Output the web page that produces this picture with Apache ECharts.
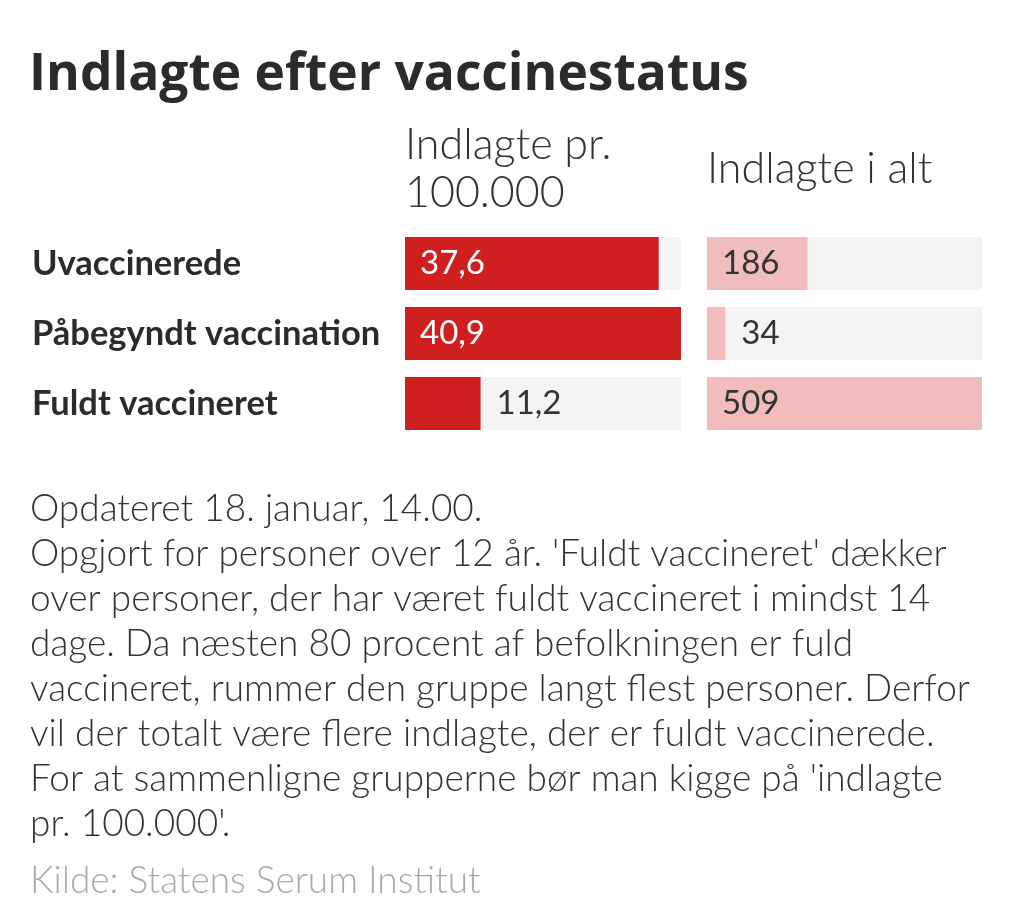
<!DOCTYPE html>
<html>
<head>
<meta charset="utf-8">
<script src="https://cdn.jsdelivr.net/npm/echarts@6/dist/echarts.min.js"></script>
<style>
  html, body { margin: 0; padding: 0; background: #fff; }
  #chart { width: 1024px; height: 910px; }
</style>
</head>
<body>
<div id="chart"></div>
<script>
// data
const groups = ['Uvaccinerede', 'Påbegyndt vaccination', 'Fuldt vaccineret'];
const perHundredK = [37.6, 40.9, 11.2];
const total = [186, 34, 509];
const notes = [
  'Opdateret 18. januar, 14.00.',
  "Opgjort for personer over 12 år. 'Fuldt vaccineret' dækker",
  'over personer, der har været fuldt vaccineret i mindst 14',
  'dage. Da næsten 80 procent af befolkningen er fuld',
  'vaccineret, rummer den gruppe langt flest personer. Derfor',
  'vil der totalt være flere indlagte, der er fuldt vaccinerede.',
  "For at sammenligne grupperne bør man kigge på 'indlagte",
  "pr. 100.000'."
];
const source = 'Kilde: Statens Serum Institut';

const font = 'Lato, "Noto Sans", sans-serif';
const ink = '#333';

const chart = echarts.init(document.getElementById('chart'));

// label inside the bar when there is room, otherwise just to the right of it
function withLabels(values, insideColor) {
  const max = Math.max(...values);
  return values.map(v => {
    const fits = v / max > 0.3;
    return {
      value: v,
      label: {
        position: fits ? 'insideLeft' : 'right',
        distance: fits ? 15 : 16,
        color: fits ? insideColor : ink
      }
    };
  });
}

const fmt = p => String(p.value).replace('.', ',');

const noteText = notes.map((line, i) => ({
  type: 'text',
  left: 30,
  top: 491 + i * 45,
  style: { text: line, font: '300 37px ' + font, fill: ink }
}));

chart.setOption({
  animation: false,
  title: {
    text: 'Indlagte efter vaccinestatus',
    left: 24,
    top: 44,
    textStyle: { fontFamily: '"Open Sans", sans-serif', fontSize: 51.5, fontWeight: 'bold', color: '#2b2b2b' }
  },
  graphic: [
    {
      type: 'text', left: 405, top: 121,
      style: { text: 'Indlagte pr.\n100.000', font: '300 43px ' + font, lineHeight: 48, fill: ink }
    },
    {
      type: 'text', left: 707, top: 148,
      style: { text: 'Indlagte i alt', font: '300 43px ' + font, fill: ink }
    },
    ...noteText,
    {
      type: 'text', left: 30, top: 863,
      style: { text: source, font: '300 37px ' + font, fill: '#aaa' }
    }
  ],
  grid: [
    { left: 405, right: 343, top: 228.5, height: 210 },
    { left: 707, right: 42, top: 228.5, height: 210 }
  ],
  xAxis: [
    { gridIndex: 0, type: 'value', min: 0, max: Math.max(...perHundredK), show: false },
    { gridIndex: 1, type: 'value', min: 0, max: Math.max(...total), show: false }
  ],
  yAxis: [
    {
      gridIndex: 0, type: 'category', data: groups, inverse: true,
      axisLine: { show: false }, axisTick: { show: false },
      axisLabel: {
        align: 'left', margin: 373,
        fontFamily: font, fontSize: 34.5, fontWeight: 'bold', color: '#2b2b2b'
      }
    },
    {
      gridIndex: 1, type: 'category', data: groups, inverse: true, show: false
    }
  ],
  series: [
    {
      type: 'bar', xAxisIndex: 0, yAxisIndex: 0, barWidth: 53,
      data: withLabels(perHundredK, '#fff'),
      itemStyle: { color: '#cf1f1f' },
      showBackground: true,
      backgroundStyle: { color: '#f4f4f4' },
      label: { show: true, formatter: fmt, fontFamily: font, fontSize: 33 }
    },
    {
      type: 'bar', xAxisIndex: 1, yAxisIndex: 1, barWidth: 53,
      data: withLabels(total, ink),
      itemStyle: { color: '#f0bcbc' },
      showBackground: true,
      backgroundStyle: { color: '#f4f4f4' },
      label: { show: true, formatter: fmt, fontFamily: font, fontSize: 33 }
    }
  ]
});
</script>
</body>
</html>
